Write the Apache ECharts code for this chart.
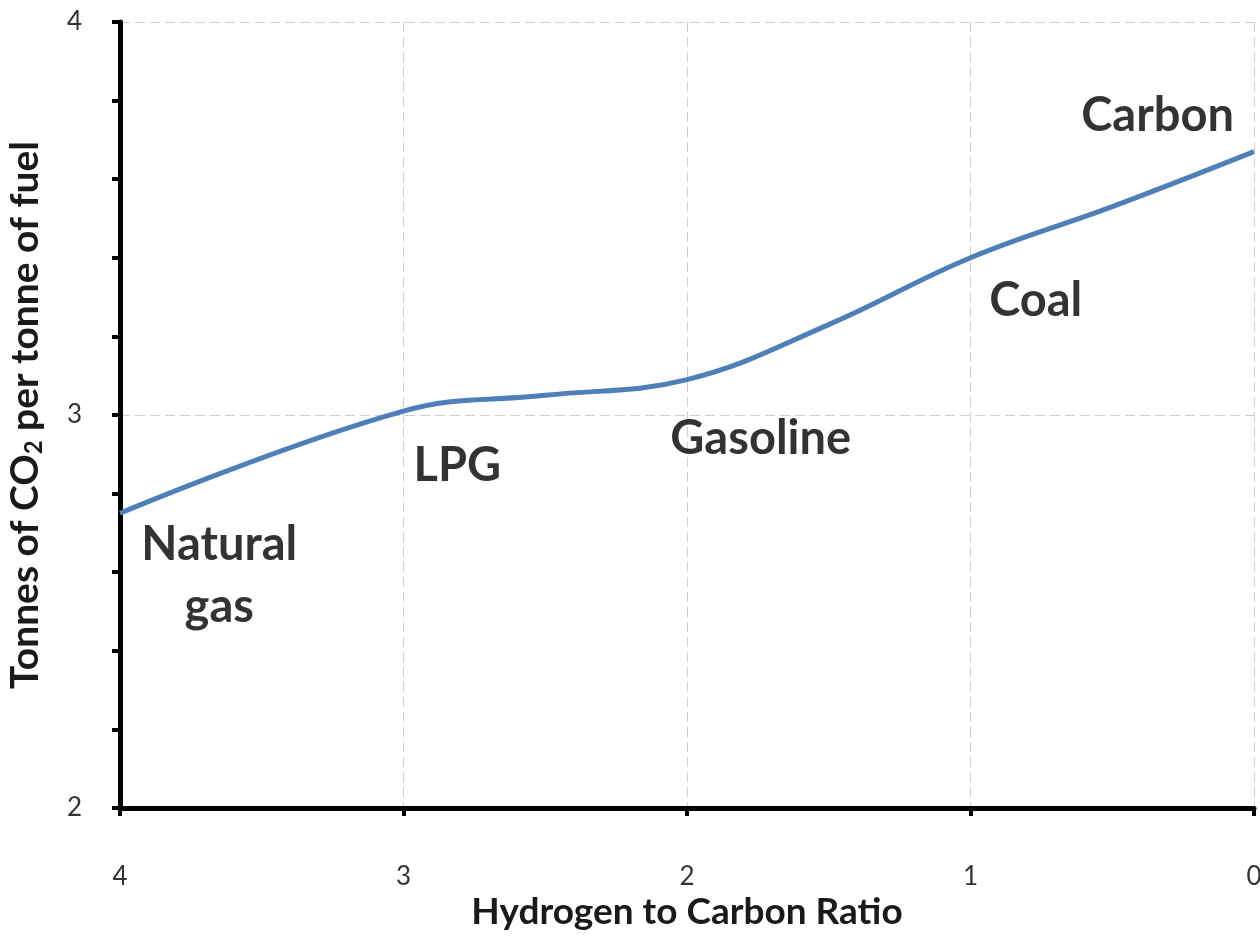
<!DOCTYPE html>
<html>
<head>
<meta charset="utf-8">
<script src="https://cdn.jsdelivr.net/npm/echarts@6/dist/echarts.min.js"></script>
<style>html,body{margin:0;padding:0;background:#fff;}#c{width:1260px;height:937px;}</style>
</head>
<body>
<div id="c"></div>
<script>
// Data
var ratio = [4, 3, 2.5, 2, 1.5, 1, 0.5, 0];
var co2 = [2.75, 3.01, 3.05, 3.09, 3.23, 3.40, 3.53, 3.67];
var xTicks = [0, 1, 2, 3, 4];
var yTicks = [2, 3, 4];
var fuelNames = ['Natural\ngas', 'LPG', 'Gasoline', 'Coal', 'Carbon'];
var fuelLabelX = [3.65, 2.81, 1.74, 0.77, 0.34];
var fuelLabelY = [2.59, 2.87, 2.94, 3.29, 3.76];

var lineData = ratio.map(function (r, i) { return [r, co2[i]]; });
var labelData = fuelNames.map(function (n, i) { return { name: n, value: [fuelLabelX[i], fuelLabelY[i]] }; });

var FONT = 'Lato';
var chart = echarts.init(document.getElementById('c'), null, { renderer: 'canvas' });
chart.setOption({
  animation: false,
  backgroundColor: '#ffffff',
  grid: { left: 120, right: 6, top: 22, bottom: 129, containLabel: false, outerBoundsMode: 'none' },
  xAxis: {
    type: 'value', inverse: true, min: xTicks[0], max: xTicks[xTicks.length - 1], interval: 1,
    name: 'Hydrogen to Carbon Ratio', nameLocation: 'middle', nameGap: 86, nameMoveOverlap: false,
    nameTextStyle: { fontFamily: FONT, fontWeight: 'bold', fontSize: 37, color: '#1a1a1a' },
    axisLine: { show: true, onZero: false, lineStyle: { color: '#000', width: 5 } },
    axisTick: { show: true, inside: false, length: 8, lineStyle: { color: '#000', width: 4 } },
    axisLabel: { margin: 56, fontFamily: FONT, fontSize: 26, color: '#333', verticalAlign: 'top' },
    splitLine: { show: true, lineStyle: { color: '#d0d0d0', width: 1, type: [10, 5] } }
  },
  yAxis: {
    type: 'value', min: yTicks[0], max: yTicks[yTicks.length - 1], interval: 1,
    name: 'Tonnes of CO{sub|2} per tonne of fuel', nameLocation: 'middle', nameGap: 74, nameMoveOverlap: false,
    nameTextStyle: { fontFamily: FONT, fontWeight: 'bold', fontSize: 39, color: '#1a1a1a',
      rich: { sub: { fontFamily: FONT, fontWeight: 'bold', fontSize: 24, color: '#1a1a1a', verticalAlign: 'bottom', padding: [17, 0, 0, 0] } } },
    axisLine: { show: true, onZero: false, lineStyle: { color: '#000', width: 5 } },
    axisTick: { show: true, inside: false, length: 8, lineStyle: { color: '#000', width: 4 } },
    minorTick: { show: true, splitNumber: 5, length: 8, lineStyle: { color: '#000', width: 4 } },
    axisLabel: { margin: 38, fontFamily: FONT, fontSize: 26, color: '#333' },
    splitLine: { show: true, lineStyle: { color: '#d0d0d0', width: 1, type: [10, 5] } }
  },
  series: [
    {
      type: 'line', data: lineData, smooth: 0.4, showSymbol: false, symbol: 'none',
      lineStyle: { color: '#4f7fb8', width: 5 }, z: 3
    },
    {
      type: 'scatter', data: labelData, symbolSize: 0, silent: true,
      label: {
        show: true, position: 'inside', formatter: '{b}', align: 'center', verticalAlign: 'middle',
        fontFamily: FONT, fontWeight: 'bold', fontSize: 47, lineHeight: 62, color: '#000'
      }, z: 4
    }
  ]
});
</script>
</body>
</html>
